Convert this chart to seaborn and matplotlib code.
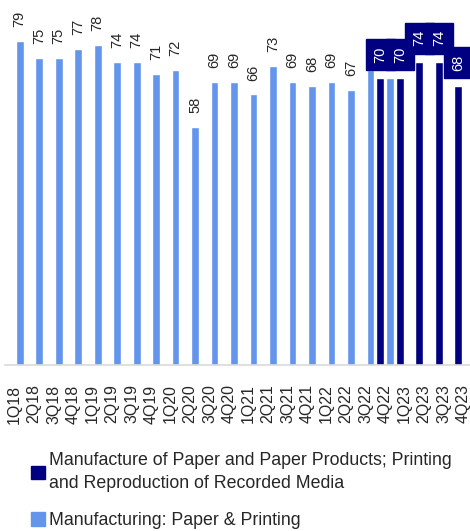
import matplotlib.pyplot as plt
import matplotlib.patches as mpatches
import pandas as pd
import seaborn as sns

# Дані
quarters = ['1Q18', '2Q18', '3Q18', '4Q18', '1Q19', '2Q19', '3Q19', '4Q19',
            '1Q20', '2Q20', '3Q20', '4Q20', '1Q21', '2Q21', '3Q21', '4Q21',
            '1Q22', '2Q22', '3Q22', '4Q22', '1Q23', '2Q23', '3Q23', '4Q23']
# Manufacturing: Paper & Printing, 1Q18-4Q22
paper_printing = [79, 75, 75, 77, 78, 74, 74, 71, 72, 58, 69, 69,
                  66, 73, 69, 68, 69, 67, 72, 70]
# Manufacture of Paper and Paper Products..., 4Q22-4Q23
manufacture_paper = [70, 70, 74, 74, 68]

dark_name = ("Manufacture of Paper and Paper Products; Printing\n"
             "and Reproduction of Recorded Media")
light_name = "Manufacturing: Paper & Printing"
dark_color = '#000080'
light_color = '#6495ED'

rows = [(q, light_name, v) for q, v in zip(quarters[:20], paper_printing)]
rows += [(q, dark_name, v) for q, v in zip(quarters[19:], manufacture_paper)]
data = pd.DataFrame(rows, columns=['quarter', 'series', 'value'])

sns.set_style('white')
plt.rcParams['font.family'] = ['Liberation Sans', 'DejaVu Sans']

fig = plt.figure(figsize=(4.7, 5.31), dpi=100)
ax = fig.add_axes([5 / 470, 166 / 531, 465 / 470, 355 / 531])

sns.barplot(data=data, x='quarter', y='value', hue='series', order=quarters,
            hue_order=[dark_name, light_name], palette=[dark_color, light_color],
            width=1.0, gap=0.2, saturation=1, ax=ax, legend=False)

ax.set_xlim(-0.5, 23.35)
ax.set_ylim(0, 86.6)
ax.set_xlabel('')
ax.set_ylabel('')
ax.set_yticks([])
ax.tick_params(axis='x', rotation=90, labelsize=11.5, length=0, pad=14,
               labelcolor='#262626')
sns.despine(ax=ax, left=True)
ax.spines['bottom'].set_color('#d9d9d9')
ax.spines['bottom'].set_linewidth(1.2)

# Підписи значень
for cont in ax.containers:
    if len(cont) == len(manufacture_paper):
        ax.bar_label(cont, labels=[str(v) for v in manufacture_paper],
                     rotation=90, padding=11, fontsize=10.5, color='white',
                     bbox=dict(boxstyle='square,pad=0.5', fc=dark_color, ec=dark_color))
    else:
        labels = [str(v) for v in paper_printing[:18]] + ['', '']
        ax.bar_label(cont, labels=labels, rotation=90, padding=10,
                     fontsize=10.5, color='#262626')

handles = [mpatches.Patch(color=dark_color), mpatches.Patch(color=light_color)]
leg = fig.legend(handles, [dark_name, light_name], loc='upper left',
                 bbox_to_anchor=(31 / 470, 1 - 452 / 531), frameon=False,
                 fontsize=12.8, handlelength=0.8, handleheight=0.8,
                 handletextpad=0.2, labelspacing=1.1, borderpad=0,
                 borderaxespad=0, labelcolor='#262626')
for t in leg.get_texts():
    t.set_linespacing(1.5)

fig.savefig('out.png', dpi=100)
